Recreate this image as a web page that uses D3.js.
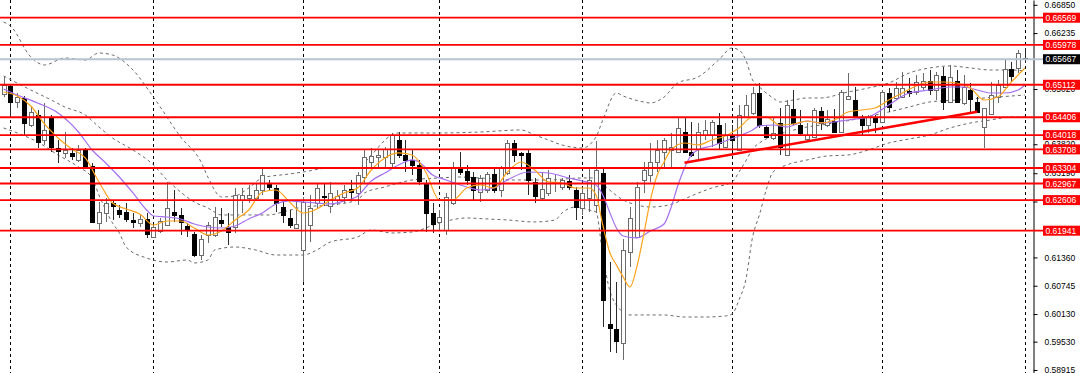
<!DOCTYPE html>
<html><head><meta charset="utf-8">
<script src="https://cdn.jsdelivr.net/npm/d3@7"></script>
<style>body{margin:0;background:#fff}svg{display:block}</style>
</head><body><svg id="c" width="1080" height="373"></svg>
<script>
// ---- data (daily candles) ----
const opens = [
0.64912,0.65085,0.64738,0.64825,0.64238,0.64455,0.63912,0.64390,0.63739,0.63630,
0.63630,0.63478,0.63695,0.63347,0.62109,0.62326,0.62543,0.62391,0.62348,0.62174,
0.62109,0.62196,0.61805,0.61935,0.62065,0.62348,0.62283,0.62044,0.61870,0.61413,
0.61848,0.61848,0.62174,0.62022,0.62022,0.62609,0.62652,0.62652,0.62826,0.62956,
0.62869,0.62456,0.62217,0.62000,0.61522,0.62065,0.62543,0.62696,0.62478,0.62609,
0.62674,0.62848,0.62761,0.63108,0.63434,0.63543,0.63543,0.63413,0.63912,0.63586,
0.63478,0.63369,0.62978,0.62326,0.62131,0.61957,0.62543,0.63304,0.63239,0.63108,
0.62782,0.62826,0.63174,0.62826,0.63195,0.63847,0.63630,0.63630,0.63000,0.62652,
0.62761,0.62978,0.62891,0.63021,0.62826,0.62435,0.62652,0.62500,0.63195,0.59914,
0.59806,0.59501,0.61478,0.61805,0.63043,0.63152,0.63434,0.63652,0.63695,0.63652,
0.64086,0.63652,0.63717,0.64021,0.64021,0.64238,0.63760,0.63999,0.63695,0.64412,
0.64499,0.64933,0.64195,0.63956,0.64282,0.63586,0.64586,0.64238,0.63934,0.63978,
0.64542,0.64238,0.64325,0.64086,0.64803,0.64781,0.64390,0.64238,0.64412,0.64303,
0.64933,0.64825,0.64846,0.64977,0.64955,0.65064,0.65194,0.64998,0.65303,0.64738,
0.65194,0.64716,0.64998,0.64738,0.64195,0.64477,0.64846,0.65064,0.65455,0.65477,
0.65694];
const highs = [
0.65303,0.65129,0.64933,0.64868,0.64651,0.64564,0.64716,0.64455,0.63912,0.64086,
0.63739,0.63804,0.63739,0.63413,0.62565,0.62652,0.62609,0.62500,0.62543,0.62326,
0.62283,0.62326,0.62065,0.62217,0.63000,0.62826,0.62435,0.62109,0.61913,0.61848,
0.62131,0.62456,0.62435,0.62326,0.62869,0.62869,0.62935,0.62978,0.63304,0.63043,
0.62935,0.62565,0.62391,0.62565,0.62674,0.62717,0.62978,0.62956,0.63000,0.62826,
0.62935,0.63043,0.63217,0.63695,0.63739,0.63695,0.63760,0.64065,0.64086,0.63912,
0.63695,0.63478,0.63043,0.62543,0.62391,0.62761,0.63434,0.63652,0.63369,0.63217,
0.63152,0.63217,0.63304,0.63347,0.63912,0.63912,0.63652,0.63695,0.63087,0.63217,
0.63260,0.63152,0.63087,0.63152,0.62891,0.62869,0.63304,0.63891,0.63304,0.61261,
0.60827,0.61761,0.62456,0.63000,0.63434,0.63847,0.63912,0.63956,0.64065,0.64390,
0.64390,0.64303,0.64282,0.64347,0.64347,0.64499,0.64282,0.64238,0.64673,0.64890,
0.65064,0.65151,0.64238,0.64412,0.64607,0.64781,0.64998,0.64564,0.64282,0.64607,
0.64629,0.64564,0.64586,0.64998,0.65368,0.65064,0.64455,0.64455,0.64455,0.64998,
0.65042,0.65172,0.65390,0.65259,0.65324,0.65368,0.65433,0.65390,0.65498,0.65542,
0.65433,0.65324,0.65151,0.64846,0.64607,0.65172,0.65216,0.65650,0.65607,0.65868,
0.65911];
const lows = [
0.64846,0.64434,0.64607,0.63999,0.64195,0.63739,0.63804,0.63652,0.63413,0.63521,
0.63478,0.63434,0.63304,0.62109,0.61957,0.62131,0.62174,0.62217,0.62131,0.62000,
0.62022,0.61783,0.61783,0.61892,0.62044,0.62131,0.61848,0.61805,0.61370,0.61305,
0.61674,0.61805,0.62022,0.61631,0.61892,0.62326,0.62543,0.62609,0.62717,0.62826,
0.62348,0.62109,0.62000,0.62000,0.60827,0.61696,0.62435,0.62478,0.62326,0.62500,
0.62543,0.62609,0.62500,0.62978,0.63326,0.63304,0.63304,0.63304,0.63521,0.63217,
0.63152,0.62935,0.61913,0.61892,0.61957,0.61848,0.62500,0.63152,0.62935,0.62609,
0.62565,0.62761,0.62761,0.62674,0.63152,0.63434,0.63260,0.62717,0.62543,0.62609,
0.62696,0.62782,0.62826,0.62826,0.62174,0.62283,0.62348,0.62326,0.59849,0.59306,
0.59284,0.59132,0.61153,0.61783,0.62761,0.63000,0.63217,0.63304,0.63304,0.63630,
0.63630,0.63543,0.63478,0.63912,0.63760,0.63695,0.63739,0.63695,0.63695,0.64390,
0.64455,0.64173,0.63956,0.63912,0.63586,0.63586,0.64238,0.64021,0.63912,0.63956,
0.64130,0.64195,0.64086,0.64065,0.64781,0.64390,0.64021,0.64065,0.64065,0.64303,
0.64521,0.64781,0.64825,0.64846,0.64890,0.64998,0.64890,0.64781,0.64564,0.64716,
0.64716,0.64673,0.64521,0.64499,0.63739,0.64455,0.64716,0.65042,0.65172,0.65368,
0.65585];
const closes = [
0.65107,0.64738,0.64846,0.64282,0.64521,0.63869,0.64130,0.63760,0.63673,0.63695,
0.63565,0.63695,0.63326,0.62131,0.62348,0.62543,0.62478,0.62304,0.62196,0.62131,
0.62196,0.61870,0.62022,0.62152,0.62435,0.62283,0.62131,0.61957,0.61413,0.61761,
0.62065,0.62239,0.62109,0.61913,0.62717,0.62717,0.62717,0.62826,0.63152,0.62891,
0.62543,0.62283,0.62065,0.62087,0.62565,0.62435,0.62869,0.62674,0.62761,0.62696,
0.62826,0.62782,0.63152,0.63543,0.63565,0.63586,0.63717,0.64021,0.63586,0.63478,
0.63369,0.63021,0.62326,0.62087,0.62239,0.62674,0.63326,0.63217,0.63043,0.62826,
0.63087,0.63174,0.62826,0.63326,0.63847,0.63586,0.63586,0.63043,0.62696,0.62848,
0.63087,0.63000,0.63043,0.62891,0.62456,0.62761,0.63043,0.63260,0.60436,0.59827,
0.59545,0.61522,0.62217,0.62891,0.63260,0.63434,0.63695,0.63912,0.63760,0.64173,
0.63652,0.63586,0.64086,0.64130,0.64303,0.63847,0.64021,0.63912,0.64455,0.64673,
0.64933,0.64238,0.63978,0.64065,0.63760,0.64673,0.64282,0.64065,0.64021,0.64564,
0.64282,0.64369,0.64086,0.64955,0.64868,0.64412,0.64238,0.64412,0.64303,0.64955,
0.64629,0.65042,0.65042,0.64933,0.65172,0.65194,0.64998,0.65324,0.64738,0.65281,
0.64738,0.65064,0.64803,0.64521,0.64607,0.64890,0.65107,0.65455,0.65303,0.65802,
0.65667];

// moving averages: [bar index, price]
const maFast = [[0,0.64955],[2,0.64868],[4,0.64651],[6,0.64260],[8,0.63956],[10,0.63717],[12,0.63521],[14,0.63000],[16,0.62543],[18,0.62413],[20,0.62304],[22,0.62065],[24,0.62152],[26,0.62152],[28,0.62000],[30,0.61848],[32,0.61935],[34,0.62174],[36,0.62391],[38,0.62782],[40,0.62826],[42,0.62565],[44,0.62326],[46,0.62413],[48,0.62609],[50,0.62761],[52,0.62869],[54,0.63260],[56,0.63521],[58,0.63630],[60,0.63586],[62,0.63217],[64,0.62609],[66,0.62609],[68,0.62869],[70,0.62935],[72,0.62869],[74,0.63217],[76,0.63434],[78,0.63260],[80,0.63000],[82,0.62978],[84,0.62869],[86,0.62869],[87,0.62717],[88,0.62065],[89,0.61478],[90,0.61196],[91,0.60935],[92,0.60718],[93,0.61153],[94,0.61848],[95,0.62609],[96,0.63152],[97,0.63434],[98,0.63695],[100,0.63847],[102,0.63804],[104,0.63912],[106,0.63999],[108,0.64173],[110,0.64412],[112,0.64412],[114,0.64238],[116,0.64260],[118,0.64325],[120,0.64282],[122,0.64347],[124,0.64521],[126,0.64564],[128,0.64607],[130,0.64781],[132,0.64933],[134,0.65085],[136,0.65172],[138,0.65172],[140,0.65151],[142,0.65042],[144,0.64781],[146,0.64846],[148,0.65172],[150,0.65477]];
const maSlow = [[0,0.65020],[2,0.64890],[5,0.64716],[8,0.64499],[11,0.64086],[13,0.63695],[15,0.63413],[17,0.63108],[19,0.62761],[21,0.62391],[22,0.62261],[24,0.62239],[26,0.62196],[28,0.62087],[30,0.62022],[32,0.62000],[34,0.62044],[36,0.62196],[38,0.62326],[40,0.62522],[42,0.62587],[44,0.62565],[46,0.62543],[48,0.62522],[50,0.62587],[52,0.62696],[54,0.63021],[56,0.63195],[58,0.63369],[60,0.63478],[61,0.63434],[63,0.63152],[65,0.63043],[68,0.62891],[70,0.62826],[72,0.62869],[74,0.63043],[77,0.63217],[80,0.63195],[83,0.63087],[85,0.63021],[87,0.62935],[88,0.62717],[89,0.62348],[90,0.62000],[91,0.61826],[93,0.61783],[95,0.61935],[97,0.62087],[98,0.62435],[99,0.62913],[100,0.63304],[101,0.63586],[102,0.63695],[104,0.63782],[106,0.63891],[108,0.63999],[110,0.64130],[111,0.64217],[113,0.64238],[115,0.64195],[118,0.64325],[120,0.64282],[122,0.64303],[124,0.64347],[127,0.64412],[130,0.64673],[133,0.64933],[136,0.64998],[139,0.65064],[141,0.65064],[143,0.64998],[145,0.64933],[147,0.64933],[149,0.64998],[150,0.65107]];

// Bollinger bands
const bbUpper = [[0,0.66476],[1,0.66389],[4,0.65716],[6,0.65542],[9,0.65694],[12,0.65650],[14,0.65802],[16,0.65759],[19,0.65433],[22,0.64846],[26,0.63978],[29,0.63434],[30,0.63108],[32,0.62674],[34,0.62696],[36,0.62869],[38,0.63087],[42,0.63174],[44,0.63217],[48,0.63304],[52,0.63304],[54,0.63586],[57,0.64021],[58,0.64065],[64,0.64065],[70,0.64086],[76,0.64130],[78,0.64021],[80,0.63912],[82,0.63804],[85,0.63739],[87,0.63978],[88,0.64347],[90,0.64933],[91,0.64868],[94,0.64738],[95,0.64716],[97,0.64846],[99,0.65151],[102,0.65281],[105,0.65650],[107,0.65911],[108,0.65868],[109,0.65650],[110,0.65216],[111,0.65064],[113,0.64825],[114,0.64738],[116,0.64781],[118,0.64825],[120,0.64825],[124,0.64955],[127,0.65042],[130,0.65151],[133,0.65368],[136,0.65477],[139,0.65520],[142,0.65477],[145,0.65433],[148,0.65433],[150,0.65411]];
const bbMiddle = [[0,0.65303],[4,0.64998],[7,0.64781],[9,0.64629],[12,0.64455],[14,0.64195],[16,0.63956],[19,0.63695],[22,0.63369],[24,0.63043],[26,0.62782],[28,0.62565],[30,0.62435],[32,0.62283],[36,0.62283],[39,0.62283],[41,0.62348],[44,0.62456],[48,0.62500],[52,0.62609],[53,0.62761],[56,0.62891],[58,0.62978],[60,0.63043],[64,0.63087],[67,0.63108],[70,0.63087],[75,0.63043],[80,0.63043],[85,0.63087],[87,0.63087],[88,0.62956],[89,0.62826],[91,0.62609],[93,0.62500],[95,0.62456],[97,0.62478],[99,0.62565],[101,0.62696],[104,0.62869],[107,0.63000],[108,0.63217],[109,0.63456],[110,0.63717],[111,0.63847],[113,0.63999],[115,0.64086],[118,0.64195],[120,0.64238],[123,0.64303],[126,0.64390],[130,0.64521],[133,0.64629],[136,0.64738],[140,0.64781],[144,0.64825],[148,0.64868],[150,0.64890]];
const bbLower = [[0,0.64173],[2,0.64065],[5,0.63869],[8,0.63586],[11,0.63326],[13,0.63087],[14,0.62717],[15,0.62391],[16,0.62109],[17,0.61892],[18,0.61587],[21,0.61348],[24,0.61261],[27,0.61305],[28,0.61240],[30,0.61305],[31,0.61522],[34,0.61587],[37,0.61522],[40,0.61413],[44,0.61413],[46,0.61522],[48,0.61696],[52,0.61805],[54,0.61957],[57,0.61892],[60,0.61913],[64,0.62109],[68,0.62217],[71,0.62196],[74,0.62174],[78,0.62131],[81,0.62174],[82,0.62326],[84,0.62456],[86,0.62391],[87,0.62348],[88,0.61413],[89,0.60653],[90,0.60327],[92,0.60110],[97,0.60110],[100,0.60066],[103,0.60066],[106,0.60088],[107,0.60131],[108,0.60436],[109,0.60870],[110,0.61805],[111,0.62283],[112,0.62826],[113,0.63217],[115,0.63369],[118,0.63478],[121,0.63565],[124,0.63586],[127,0.63695],[130,0.63847],[133,0.63934],[136,0.64021],[139,0.64173],[142,0.64282],[145,0.64347],[148,0.64412],[150,0.64412]];

const levels = [0.66569,0.65978,0.65112,0.64406,0.64018,0.63708,0.63304,0.62967,0.62606,0.61941];
const currentPrice = 0.65667;
const trendLine = [[100,0.63419],[143,0.64527]];
// price-scale ticks (those fully covered by level labels are omitted)
const yTicks = [0.66850,0.66235,0.65020,0.63820,0.63190,0.62575,0.61360,0.60745,0.60130,0.59530,0.58915];
const monthStarts = [1,22,44,64,85,107,129,150];

// ---- drawing ----
const W = 1080, H = 373, plotRight = 1033;
const svg = d3.select('#c');
svg.append('rect').attr('width',W).attr('height',H).attr('fill','#fff');
const x = d3.scaleLinear().domain([0,150]).range([3.6,1024.95]);
const y = d3.scaleLinear().domain([0.58849,0.66954]).range([H,0]);
const px = i => Math.round(x(i)) + 0.5;

svg.append('clipPath').attr('id','plot').append('rect').attr('x',0).attr('y',0).attr('width',plotRight).attr('height',H);
const g = svg.append('g').attr('clip-path','url(#plot)');

// month separators
g.selectAll('line.sep').data(monthStarts).join('line')
  .attr('x1',d=>px(d)).attr('x2',d=>px(d)).attr('y1',0).attr('y2',H)
  .attr('stroke','#000').attr('stroke-width',1).attr('stroke-dasharray','3,3');

// bollinger bands
const bandLine = d3.line().x(d=>x(d[0])).y(d=>y(d[1])).curve(d3.curveMonotoneX);
[bbUpper,bbMiddle,bbLower].forEach(b=>{
  g.append('path').attr('d',bandLine(b)).attr('fill','none')
   .attr('stroke','#6a6a6a').attr('stroke-width',1).attr('stroke-dasharray','3,3');
});

// candles
const data = d3.range(closes.length).map(i=>({i,o:opens[i],h:highs[i],l:lows[i],c:closes[i]}));
const cg = g.append('g');
cg.selectAll('line.wick').data(data).join('line')
  .attr('x1',d=>px(d.i)).attr('x2',d=>px(d.i))
  .attr('y1',d=>Math.round(y(d.h))).attr('y2',d=>Math.round(y(d.l)))
  .attr('stroke',d=>d.c>=d.o?'#6b6b6b':'#2a2a2a').attr('stroke-width',1);
cg.selectAll('rect.body').data(data).join('rect')
  .attr('x',d=>px(d.i)-2).attr('width',4)
  .attr('y',d=>Math.round(y(Math.max(d.o,d.c)))+0.5)
  .attr('height',d=>Math.max(1,Math.round(Math.abs(y(d.o)-y(d.c)))))
  .attr('fill',d=>d.c>=d.o?'#fff':'#000')
  .attr('stroke',d=>d.c>=d.o?'#6b6b6b':'#000').attr('stroke-width',1);

// moving averages
const maLine = d3.line().x(d=>x(d[0])).y(d=>y(d[1])).curve(d3.curveMonotoneX);
g.append('path').attr('d',maLine(maSlow)).attr('fill','none').attr('stroke','#a56ef0').attr('stroke-width',1.2);
g.append('path').attr('d',maLine(maFast)).attr('fill','none').attr('stroke','#ffa31a').attr('stroke-width',1.2);

// trend line
g.append('line').attr('x1',x(trendLine[0][0])).attr('y1',y(trendLine[0][1]))
  .attr('x2',x(trendLine[1][0])).attr('y2',y(trendLine[1][1]))
  .attr('stroke','#ff0000').attr('stroke-width',2.5);

// axis
const axis = d3.axisRight(y).tickValues(yTicks).tickFormat(d3.format('.5f'))
  .tickSize(4).tickSizeOuter(0).tickPadding(7);
const ag = svg.append('g').attr('transform',`translate(${plotRight+0.5},0)`).call(axis);
ag.select('.domain').attr('stroke','#000');
ag.selectAll('.tick line').attr('stroke','#000');
ag.selectAll('.tick text').attr('fill','#000').style('font-family','"Liberation Sans", Arial, sans-serif').style('font-size','8.5px');

// horizontal levels
svg.selectAll('line.lvl').data(levels).join('line')
  .attr('x1',0).attr('x2',1043).attr('y1',d=>y(d)).attr('y2',d=>y(d))
  .attr('stroke','#ff0000').attr('stroke-width',1.8);
svg.append('line').attr('x1',0).attr('x2',1043).attr('y1',y(currentPrice)).attr('y2',y(currentPrice))
  .attr('stroke','#b7c3cf').attr('stroke-width',1.8);

// labels on the price axis
const labs = levels.map(v=>({v,bg:'#ff0000'})).concat([{v:currentPrice,bg:'#000'}]);
const lg = svg.append('g');
lg.selectAll('rect').data(labs).join('rect')
  .attr('x',1043).attr('y',d=>y(d.v)-5).attr('width',37).attr('height',10).attr('fill',d=>d.bg);
lg.selectAll('text').data(labs).join('text')
  .attr('x',1045.5).attr('y',d=>y(d.v)+3.2).attr('fill','#fff')
  .style('font-family','"Liberation Sans", Arial, sans-serif').style('font-size','8.5px')
  .text(d=>d3.format('.5f')(d.v));
</script></body></html>
